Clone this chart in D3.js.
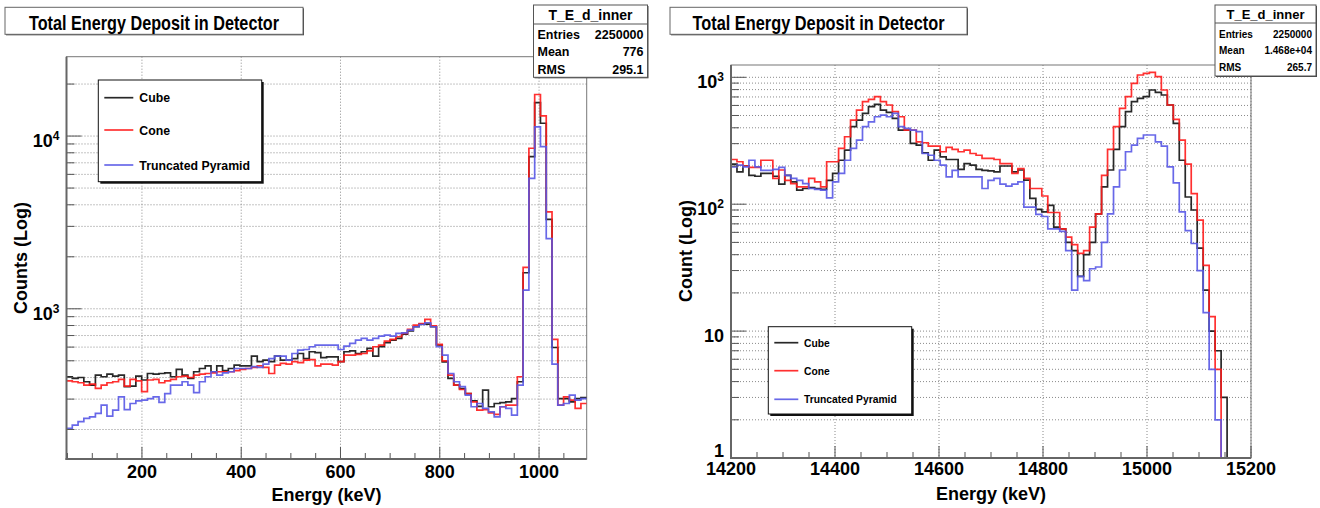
<!DOCTYPE html>
<html>
<head>
<meta charset="utf-8">
<script src="https://cdn.jsdelivr.net/npm/d3@7"></script>
<style>
body { margin: 0; background: #fff; }
text { font-family: "Liberation Sans", Arial, Helvetica, sans-serif; font-weight: bold; fill: #000; }
</style>
</head>
<body>
<svg id="chart" width="1320" height="508"></svg>
<script>
// ---- data ----
var seriesNames = ["Cube", "Cone", "Truncated Pyramid"];

// left pad: 90 bins from 48 keV to 1096 keV
var leftBinStart = 48;
var leftBinWidth = 1048 / 90;
var leftCube = [404, 395, 400, 378, 361, 413, 404, 418, 408, 413,
  354, 357, 408, 387, 422, 418, 422, 426, 404, 446,
  413, 395, 432, 451, 467, 432, 467, 438, 451, 472,
  467, 467, 532, 494, 504, 494, 532, 504, 504, 515,
  551, 515, 564, 557, 521, 527, 527, 494, 564, 571,
  551, 564, 590, 532, 603, 636, 659, 674, 713, 744,
  787, 815, 815, 787, 617, 493, 395, 361, 345, 323,
  293, 272, 338, 271, 283, 286, 289, 302, 378, 1617,
  7600, 15600, 11860, 3290, 597, 302, 302, 289, 302, 306];
var leftCone = [383, 378, 373, 361, 366, 346, 361, 373, 378, 390,
  357, 390, 383, 331, 387, 390, 373, 383, 390, 404,
  408, 400, 413, 418, 422, 426, 432, 432, 432, 438,
  446, 451, 458, 467, 458, 422, 472, 483, 478, 494,
  488, 504, 508, 467, 478, 478, 472, 494, 539, 539,
  545, 551, 571, 603, 616, 650, 665, 689, 720, 760,
  804, 822, 868, 797, 622, 500, 413, 361, 341, 323,
  289, 259, 261, 250, 245, 271, 277, 277, 404, 1735,
  8500, 17400, 13100, 3640, 665, 277, 309, 296, 265, 283];
var leftPyramid = [203, 212, 222, 232, 237, 248, 277, 239, 259, 309,
  261, 283, 293, 296, 302, 309, 287, 323, 361, 361,
  378, 361, 327, 378, 404, 432, 413, 426, 432, 451,
  451, 451, 462, 458, 478, 515, 532, 532, 504, 551,
  577, 581, 603, 616, 616, 616, 616, 581, 608, 630,
  659, 674, 659, 674, 695, 704, 695, 720, 726, 753,
  787, 811, 830, 787, 603, 539, 422, 378, 354, 316,
  271, 283, 265, 253, 237, 271, 265, 242, 361, 1283,
  5690, 11300, 8690, 2550, 478, 277, 283, 316, 296, 302];

// right pad: 87 bins from 14200 keV to 15200 keV
var rightBinStart = 14200;
var rightBinWidth = 1000 / 87;
var rightCube = [207, 180, 200, 169, 166, 175, 175, 166, 144, 169,
  150, 129, 133, 135, 133, 131, 154, 175, 222, 267,
  408, 460, 520, 587, 612, 552, 530, 474, 384, 384,
  301, 292, 254, 222, 267, 236, 225, 225, 188, 209,
  203, 188, 185, 183, 180, 200, 200, 180, 186, 155,
  111, 91, 87, 98, 66, 64, 50, 43, 27, 40,
  50, 84, 137, 186, 270, 408, 536, 643, 683, 704,
  794, 761, 725, 605, 433, 222, 114, 90, 45, 21,
  10, 7, 3, 0, 0, 0, 0];
var rightCone = [225, 216, 200, 195, 195, 222, 222, 160, 186, 154,
  145, 137, 137, 160, 150, 137, 216, 216, 275, 340,
  460, 552, 643, 670, 704, 643, 605, 536, 489, 384,
  384, 310, 305, 287, 287, 259, 280, 270, 259, 267,
  251, 243, 230, 230, 225, 209, 209, 175, 191, 160,
  133, 133, 116, 86, 86, 64, 55, 48, 41, 43,
  66, 84, 169, 270, 408, 569, 704, 897, 1043, 1075,
  1095, 1012, 794, 605, 466, 320, 207, 121, 75, 33,
  13, 5, 0, 0, 0, 0, 0];
var rightPyramid = [197, 203, 197, 222, 197, 185, 185, 188, 195, 169,
  160, 154, 145, 133, 131, 129, 112, 150, 175, 222,
  275, 320, 408, 446, 489, 504, 489, 520, 408, 396,
  384, 373, 251, 243, 222, 203, 164, 185, 164, 164,
  164, 164, 133, 154, 160, 144, 139, 144, 150, 95,
  95, 83, 80, 64, 64, 61, 43, 21, 27, 25,
  31, 32, 50, 84, 137, 186, 259, 292, 330, 351,
  351, 310, 287, 197, 147, 87, 62, 49, 30, 14,
  5, 2, 0, 0, 0, 0, 0];

// axes
var leftXTicks = [200, 400, 600, 800, 1000];
var rightXTicks = [14200, 14400, 14600, 14800, 15000, 15200];
var leftYTicks = [1000, 10000];
var rightYTicks = [1, 10, 100, 1000];

// stats boxes
var leftStats = [["Entries", "2250000"], ["Mean", "776"], ["RMS", "295.1"]];
var rightStats = [["Entries", "2250000"], ["Mean", "1.468e+04"], ["RMS", "265.7"]];

var lineColors = ["#111111", "#ff1a1a", "#5858e6"];

var svg = d3.select("#chart");

var drawPanel = function(p, id){
	var g = svg.append("g");
	var x = d3.scaleLinear().domain(p.xDomain).range([p.left, p.right]);
	var y = d3.scaleLog().domain(p.yDomain).range([p.bottom, p.top]);

	// every 1..9 x 10^n inside the y range
	var logTicks = [];
	for(var e = Math.floor(Math.log10(p.yDomain[0])); e <= Math.ceil(Math.log10(p.yDomain[1])); e++){
		for(var m = 1; m < 10; m++){
			var v = m * Math.pow(10, e);
			if(v >= p.yDomain[0] && v <= p.yDomain[1]) logTicks.push(v);
		}
	}
	var minorX = d3.range(Math.ceil(p.xDomain[0] / 50) * 50, p.xDomain[1] + 0.01, 50);

	// grid
	g.selectAll(".hgrid").data(logTicks.filter(function(d){ return y(d) < p.bottom - 1; })).enter().append("line")
		.attr("x1", p.left).attr("x2", p.right)
		.attr("y1", function(d){ return y(d); }).attr("y2", function(d){ return y(d); })
		.attr("stroke", "#8a8a8a").attr("stroke-width", 1).attr("stroke-dasharray", "1,2");
	g.selectAll(".vgrid").data(p.xTicks).enter().append("line")
		.attr("x1", function(d){ return x(d); }).attr("x2", function(d){ return x(d); })
		.attr("y1", p.top).attr("y2", p.bottom)
		.attr("stroke", "#8a8a8a").attr("stroke-width", 1).attr("stroke-dasharray", "1,2");

	// frame
	g.append("rect").attr("x", p.left).attr("y", p.top)
		.attr("width", p.right - p.left).attr("height", p.bottom - p.top)
		.attr("fill", "none").attr("stroke", "#777").attr("stroke-width", 1);

	// histograms
	var clipId = "clip" + id;
	svg.append("clipPath").attr("id", clipId).append("rect")
		.attr("x", p.left).attr("y", p.top - 2).attr("width", p.right - p.left).attr("height", p.bottom - p.top + 2);
	var step = d3.line().curve(d3.curveStepAfter)
		.x(function(d){ return x(d[0]); })
		.y(function(d){ return d[1] > 0 ? y(d[1]) : p.bottom; });
	p.series.forEach(function(vals, i){
		var pts = vals.map(function(v, k){ return [p.binStart + k * p.binWidth, v]; });
		pts.push([p.binStart + vals.length * p.binWidth, vals[vals.length - 1]]);
		g.append("path").datum(pts).attr("d", step)
			.attr("clip-path", "url(#" + clipId + ")")
			.attr("fill", "none").attr("stroke", lineColors[i]).attr("stroke-width", 1.7)
			.attr("stroke-opacity", 0.9);
	});

	// ticks
	g.selectAll(".ytick").data(logTicks).enter().append("line")
		.attr("x1", p.left).attr("y1", function(d){ return y(d); }).attr("y2", function(d){ return y(d); })
		.attr("x2", function(d){ return p.left + (p.yTicks.indexOf(d) >= 0 ? 15 : 8); })
		.attr("stroke", "#555").attr("stroke-width", 1);
	g.selectAll(".xtick").data(minorX).enter().append("line")
		.attr("x1", function(d){ return x(d); }).attr("x2", function(d){ return x(d); })
		.attr("y1", p.bottom)
		.attr("y2", function(d){ return p.bottom - (p.xTicks.indexOf(d) >= 0 ? 12 : 6); })
		.attr("stroke", "#555").attr("stroke-width", 1);

	// axis lines
	g.append("line").attr("x1", p.left).attr("x2", p.left).attr("y1", p.top).attr("y2", p.bottom + 1)
		.attr("stroke", "#666").attr("stroke-width", 2);
	g.append("line").attr("x1", p.left - 1).attr("x2", p.right).attr("y1", p.bottom).attr("y2", p.bottom)
		.attr("stroke", "#666").attr("stroke-width", 2);

	// tick labels
	g.selectAll(".xlab").data(p.xTicks).enter().append("text")
		.attr("x", function(d){ return x(d); }).attr("y", p.xLabelY)
		.attr("text-anchor", "middle").attr("font-size", p.xLabelSize)
		.text(function(d){ return d; });
	p.yTicks.forEach(function(v){
		var ty = y(v);
		var lab = g.append("text").attr("x", p.left - 7).attr("text-anchor", "end").attr("font-size", 18)
			.attr("y", ty > p.bottom - 2 ? ty - 1 : ty + 11);
		var exp = Math.round(Math.log10(v));
		if(exp >= 2){
			lab.append("tspan").text("10");
			lab.append("tspan").attr("font-size", 12).attr("dy", -7).text(exp);
		} else {
			lab.text(v);
		}
	});

	// axis titles
	g.append("text").attr("x", (p.left + p.right) / 2).attr("y", p.xTitleY)
		.attr("text-anchor", "middle").attr("font-size", 18).text("Energy (keV)");
	g.append("text").attr("transform", "translate(" + p.yTitleX + "," + p.yTitleY + ") rotate(-90)")
		.attr("text-anchor", "middle").attr("font-size", 18).text(p.yTitle);

	// title box
	var t = p.titleBox;
	g.append("rect").attr("x", t[0] + 1).attr("y", t[1] + 1).attr("width", t[2]).attr("height", t[3]).attr("fill", "#444");
	g.append("rect").attr("x", t[0]).attr("y", t[1]).attr("width", t[2]).attr("height", t[3])
		.attr("fill", "#fff").attr("stroke", "#666").attr("stroke-width", 1);
	g.append("text").attr("x", t[0] + t[2] / 2).attr("y", 29.5).attr("text-anchor", "middle")
		.attr("font-size", 21).attr("textLength", p.titleLen).attr("lengthAdjust", "spacingAndGlyphs")
		.text("Total Energy Deposit in Detector");

	// stats box
	var s = p.statsBox;
	g.append("rect").attr("x", s[0] + 1).attr("y", s[1] + 1).attr("width", s[2]).attr("height", s[3]).attr("fill", "#444");
	g.append("rect").attr("x", s[0]).attr("y", s[1]).attr("width", s[2]).attr("height", s[3])
		.attr("fill", "#fff").attr("stroke", "#555").attr("stroke-width", 1);
	g.append("line").attr("x1", s[0]).attr("x2", s[0] + s[2]).attr("y1", p.statsSep).attr("y2", p.statsSep)
		.attr("stroke", "#555").attr("stroke-width", 1);
	g.append("text").attr("x", s[0] + s[2] / 2).attr("y", p.statsHeadY).attr("text-anchor", "middle")
		.attr("font-size", p.statsHeadSize).text("T_E_d_inner");
	p.stats.forEach(function(row, i){
		var ry = p.statsRowY + i * p.statsRowGap;
		g.append("text").attr("x", s[0] + 4).attr("y", ry).attr("font-size", p.statsSize).text(row[0]);
		g.append("text").attr("x", s[0] + s[2] - 4).attr("y", ry).attr("text-anchor", "end")
			.attr("font-size", p.statsSize).text(row[1]);
	});

	// legend
	var L = p.legend;
	g.append("rect").attr("x", L.x + 2).attr("y", L.y + 2).attr("width", L.w).attr("height", L.h).attr("fill", "#111");
	g.append("rect").attr("x", L.x).attr("y", L.y).attr("width", L.w).attr("height", L.h)
		.attr("fill", "#fff").attr("stroke", "#111").attr("stroke-width", 1);
	seriesNames.forEach(function(name, i){
		var ly = L.rows[i];
		g.append("line").attr("x1", L.lineX[0]).attr("x2", L.lineX[1]).attr("y1", ly).attr("y2", ly)
			.attr("stroke", lineColors[i]).attr("stroke-width", 1.7).attr("stroke-opacity", 0.9);
		g.append("text").attr("x", L.textX).attr("y", ly + L.size * 0.37).attr("font-size", L.size).text(name);
	});
};

drawPanel({
	left: 66.5, right: 586.7, top: 56.7, bottom: 459,
	xDomain: [leftBinStart, leftBinStart + 90 * leftBinWidth], yDomain: [135, 28800],
	binStart: leftBinStart, binWidth: leftBinWidth,
	series: [leftCube, leftCone, leftPyramid],
	xTicks: leftXTicks, yTicks: leftYTicks,
	xLabelY: 478, xLabelSize: 18, xTitleY: 501,
	yTitle: "Counts (Log)", yTitleX: 27, yTitleY: 258,
	titleBox: [5, 7.3, 298, 27], titleLen: 250,
	statsBox: [533.5, 5, 114, 72.3], statsSep: 24, statsHeadY: 20, statsHeadSize: 14,
	stats: leftStats, statsRowY: 38.5, statsRowGap: 17.8, statsSize: 12.5,
	legend: {x: 98.3, y: 80, w: 163.4, h: 101.7, rows: [97.7, 130, 165], lineX: [104.3, 133.3], textX: 139.3, size: 12.3}
}, "L");

drawPanel({
	left: 731, right: 1251, top: 65, bottom: 458,
	xDomain: [14200, 15200], yDomain: [1, 1250],
	binStart: rightBinStart, binWidth: rightBinWidth,
	series: [rightCube, rightCone, rightPyramid],
	xTicks: rightXTicks, yTicks: rightYTicks,
	xLabelY: 475, xLabelSize: 18, xTitleY: 500,
	yTitle: "Count (Log)", yTitleX: 692, yTitleY: 251,
	titleBox: [670, 7.3, 297, 27], titleLen: 252,
	statsBox: [1215, 5, 101, 71], statsSep: 23, statsHeadY: 19, statsHeadSize: 13,
	stats: rightStats, statsRowY: 37.5, statsRowGap: 16.8, statsSize: 10,
	legend: {x: 768.3, y: 326.7, w: 143.4, h: 87.3, rows: [342.7, 370.7, 399.3], lineX: [774.3, 798.3], textX: 804, size: 10.3}
}, "R");
</script>
</body>
</html>
